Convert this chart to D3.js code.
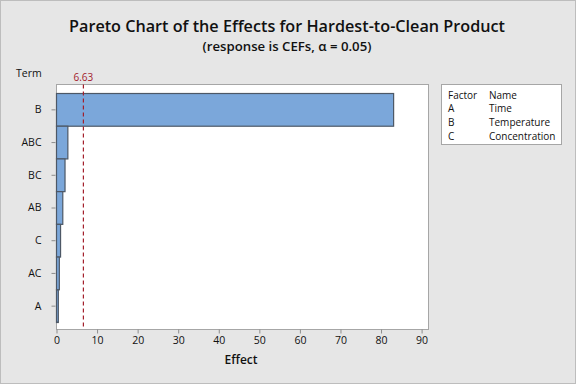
<!DOCTYPE html>
<html>
<head>
<meta charset="utf-8">
<script src="https://cdn.jsdelivr.net/npm/d3@7"></script>
<style>
  body { margin: 0; background: #e6e6e6; }
  svg { display: block; font-family: "Open Sans", "Noto Sans", sans-serif; }
</style>
</head>
<body>
<div id="chart"></div>
<script>
// terms sorted by effect, largest first
const terms = ["B", "ABC", "BC", "AB", "C", "AC", "A"];
const effects = [83.1, 2.8, 2.1, 1.55, 1.0, 0.7, 0.45];
const criticalValue = 6.63;
const xTicks = [0, 10, 20, 30, 40, 50, 60, 70, 80, 90];
const factors = ["A", "B", "C"];
const factorNames = ["Time", "Temperature", "Concentration"];

const width = 576;
const height = 384;
const plot = { left: 56.5, right: 428.5, top: 84.5, bottom: 329.5 };

const svg = d3.select("#chart")
  .append("svg")
  .attr("width", width)
  .attr("height", height);

svg.append("rect")
  .attr("x", 0.5).attr("y", 0.5)
  .attr("width", width - 1).attr("height", height - 1)
  .attr("fill", "#e6e6e6")
  .attr("stroke", "#bdbdbd");

// titles
svg.append("text")
  .attr("x", 287).attr("y", 32)
  .attr("text-anchor", "middle")
  .attr("font-size", "16.2px")
  .attr("font-weight", 600)
  .attr("fill", "#111")
  .text("Pareto Chart of the Effects for Hardest-to-Clean Product");

svg.append("text")
  .attr("x", 287).attr("y", 50.5)
  .attr("text-anchor", "middle")
  .attr("font-size", "13.2px")
  .attr("font-weight", 600)
  .attr("fill", "#111")
  .text("(response is CEFs, \u03b1 = 0.05)");

const x = d3.scaleLinear()
  .domain([0, 91.7])
  .range([plot.left, plot.right]);

const y = d3.scaleBand()
  .domain(terms)
  .range([93.5, 322.5])
  .padding(0);

svg.append("rect")
  .attr("x", plot.left).attr("y", plot.top)
  .attr("width", plot.right - plot.left)
  .attr("height", plot.bottom - plot.top)
  .attr("fill", "#fff")
  .attr("stroke", "#a6a6a6");

// bars
svg.selectAll(".bar")
  .data(terms)
  .enter()
  .append("rect")
  .attr("class", "bar")
  .attr("x", x(0))
  .attr("y", d => y(d))
  .attr("width", (d, i) => x(effects[i]) - x(0))
  .attr("height", y.bandwidth())
  .attr("fill", "#7ba7da")
  .attr("stroke", "#4d5866")
  .attr("stroke-width", 1.2);

// reference line
svg.append("line")
  .attr("x1", x(criticalValue)).attr("x2", x(criticalValue))
  .attr("y1", plot.top).attr("y2", plot.bottom)
  .attr("stroke", "#a3202c")
  .attr("stroke-width", 1.2)
  .attr("stroke-dasharray", "4,3");

svg.append("text")
  .attr("x", x(criticalValue)).attr("y", 81)
  .attr("text-anchor", "middle")
  .attr("font-size", "10px")
  .attr("fill", "#a3202c")
  .text(criticalValue.toFixed(2));

// axes
const xAxis = svg.append("g")
  .attr("transform", `translate(0,${plot.bottom})`)
  .call(d3.axisBottom(x).tickValues(xTicks).tickSize(4).tickPadding(3));

const yAxis = svg.append("g")
  .attr("transform", `translate(${plot.left - 1},0)`)
  .call(d3.axisLeft(y).tickSize(4).tickPadding(10));

[xAxis, yAxis].forEach(g => {
  g.select(".domain").remove();
  g.selectAll(".tick line").attr("stroke", "#8c8c8c");
  g.selectAll(".tick text")
    .attr("font-size", "10.5px")
    .attr("font-family", "\"Open Sans\", sans-serif")
    .attr("fill", "#111");
});

svg.append("text")
  .attr("x", 241).attr("y", 364)
  .attr("text-anchor", "middle")
  .attr("font-size", "12px")
  .attr("font-weight", 600)
  .attr("fill", "#111")
  .text("Effect");

svg.append("text")
  .attr("x", 16).attr("y", 77)
  .attr("font-size", "10.5px")
  .attr("fill", "#111")
  .text("Term");

// factor legend
const legend = svg.append("g");
legend.append("rect")
  .attr("x", 441.5).attr("y", 84.5)
  .attr("width", 120).attr("height", 60)
  .attr("fill", "#fff")
  .attr("stroke", "#a6a6a6");

const rows = [["Factor", "Name"]].concat(factors.map((f, i) => [f, factorNames[i]]));
const legendRows = legend.selectAll(".row")
  .data(rows)
  .enter()
  .append("g")
  .attr("transform", (d, i) => `translate(0,${98.5 + i * 13.7})`);

legendRows.append("text")
  .attr("x", 448)
  .attr("font-size", "10px")
  .attr("fill", "#111")
  .text(d => d[0]);

legendRows.append("text")
  .attr("x", 489)
  .attr("font-size", "10px")
  .attr("fill", "#111")
  .text(d => d[1]);
</script>
</body>
</html>
